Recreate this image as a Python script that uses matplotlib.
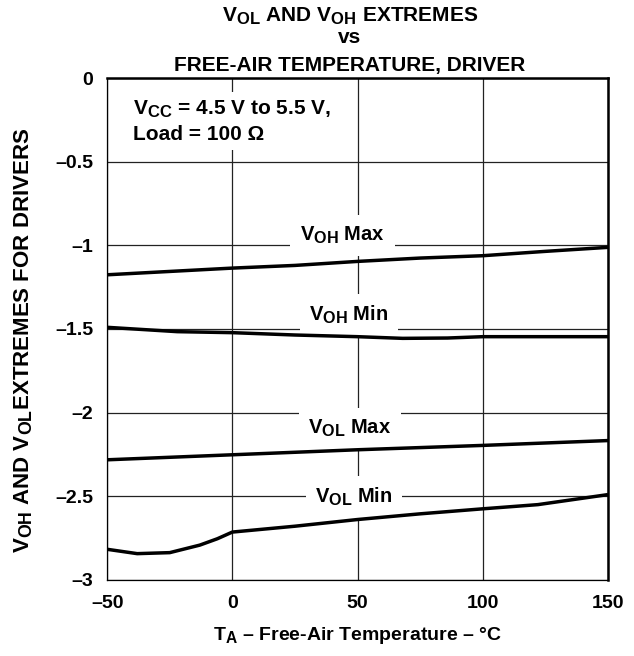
import matplotlib
matplotlib.use('Agg')
import matplotlib.pyplot as plt
import matplotlib._mathtext as mathtext_mod

# subscripts in the reference are a bit bigger than mathtext's default
mathtext_mod.SHRINK_FACTOR = 0.8

plt.rcParams['font.family'] = ['Liberation Sans', 'DejaVu Sans']
plt.rcParams['font.weight'] = 'bold'
plt.rcParams['mathtext.fontset'] = 'custom'
plt.rcParams['mathtext.rm'] = 'Liberation Sans:bold'
plt.rcParams['mathtext.it'] = 'Liberation Sans:bold'
plt.rcParams['mathtext.bf'] = 'Liberation Sans:bold'
plt.rcParams['mathtext.default'] = 'rm'

# curves (temperature in degC, volts)
voh_max_t = [-50, -25, 0, 25, 50, 75, 100, 125, 150]
voh_max_v = [-1.176, -1.156, -1.136, -1.12, -1.096, -1.076, -1.062, -1.036, -1.012]

voh_min_t = [-50, -22, 0, 25, 50, 68, 86, 100, 125, 150]
voh_min_v = [-1.49, -1.516, -1.522, -1.536, -1.546, -1.556, -1.554, -1.546, -1.546, -1.546]

vol_max_t = [-50, 0, 50, 100, 150]
vol_max_v = [-2.282, -2.252, -2.222, -2.196, -2.167]

vol_min_t = [-50, -38, -25, -13, -6, 0, 25, 50, 75, 100, 122, 150]
vol_min_v = [-2.817, -2.843, -2.837, -2.792, -2.754, -2.714, -2.679, -2.639, -2.605, -2.575, -2.55, -2.49]

x_ticks = [-50, 0, 50, 100, 150]
x_ticklabels = ['\u201350', '0', '50', '100', '150']
y_ticks = [0, -0.5, -1, -1.5, -2, -2.5, -3]
y_ticklabels = ['0', '\u20130.5', '\u20131', '\u20131.5', '\u20132', '\u20132.5', '\u20133']

fig = plt.figure(figsize=(6.34, 6.56), dpi=100)
ax = fig.add_axes([0.169, 0.116, 0.79, 0.765])

for t, v in [(voh_max_t, voh_max_v), (voh_min_t, voh_min_v),
             (vol_max_t, vol_max_v), (vol_min_t, vol_min_v)]:
    ax.plot(t, v, color='black', lw=2.5, zorder=3, solid_capstyle='butt')

ax.set_xlim(-50, 150)
ax.set_ylim(-3, 0)
ax.set_xticks(x_ticks)
ax.set_xticklabels(x_ticklabels)
ax.set_yticks(y_ticks)
ax.set_yticklabels(y_ticklabels)
ax.tick_params(length=0, labelsize=14)
ax.tick_params(axis='x', pad=11)
ax.tick_params(axis='y', pad=10)
ax.grid(True, color='#222222', lw=0.9)
ax.set_axisbelow(True)
for side in ['left', 'bottom']:
    ax.spines[side].set_linewidth(0.9)
for side in ['top', 'right']:
    ax.spines[side].set_linewidth(1.8)

lbl = dict(ha='center', va='baseline', fontsize=14.5, fontweight='bold', zorder=2,
           bbox=dict(facecolor='white', edgecolor='none', pad=7))
ax.text(44, -0.975, r'V$_{OH}$ Max', **lbl)
ax.text(46.6, -1.45, r'V$_{OH}$ Min', **lbl)
ax.text(47, -2.125, r'V$_{OL}$ Max', **lbl)
ax.text(48.6, -2.54, r'V$_{OL}$ Min', **lbl)

ax.text(-39.7, -0.26, 'V$_{CC}$ = 4.5 V to 5.5 V,\nLoad = 100 \u03a9', ha='left', va='center',
        fontsize=15, fontweight='bold', linespacing=1.3, zorder=2,
        bbox=dict(facecolor='white', edgecolor='none', pad=4))

ax.set_xlabel('T$_A$ \u2013 Free-Air Temperature \u2013 \u00b0C', fontsize=14, fontweight='bold')
ax.xaxis.set_label_coords(0.5, -0.09)
ax.set_ylabel('V$_{OH}$ AND V$_{OL}$EXTREMES FOR DRIVERS', fontsize=16, fontweight='bold')
ax.yaxis.set_label_coords(-0.145, 0.478)

fig.text(0.552, 0.9665, 'V$_{OL}$ AND V$_{OH}$ EXTREMES', ha='center', va='baseline',
         fontsize=15, fontweight='bold')
fig.text(0.552, 0.9345, 'vs', ha='center', va='baseline', fontsize=15, fontweight='bold')
fig.text(0.552, 0.892, 'FREE-AIR TEMPERATURE, DRIVER', ha='center', va='baseline',
         fontsize=15, fontweight='bold')

fig.savefig('out.png', dpi=100)
